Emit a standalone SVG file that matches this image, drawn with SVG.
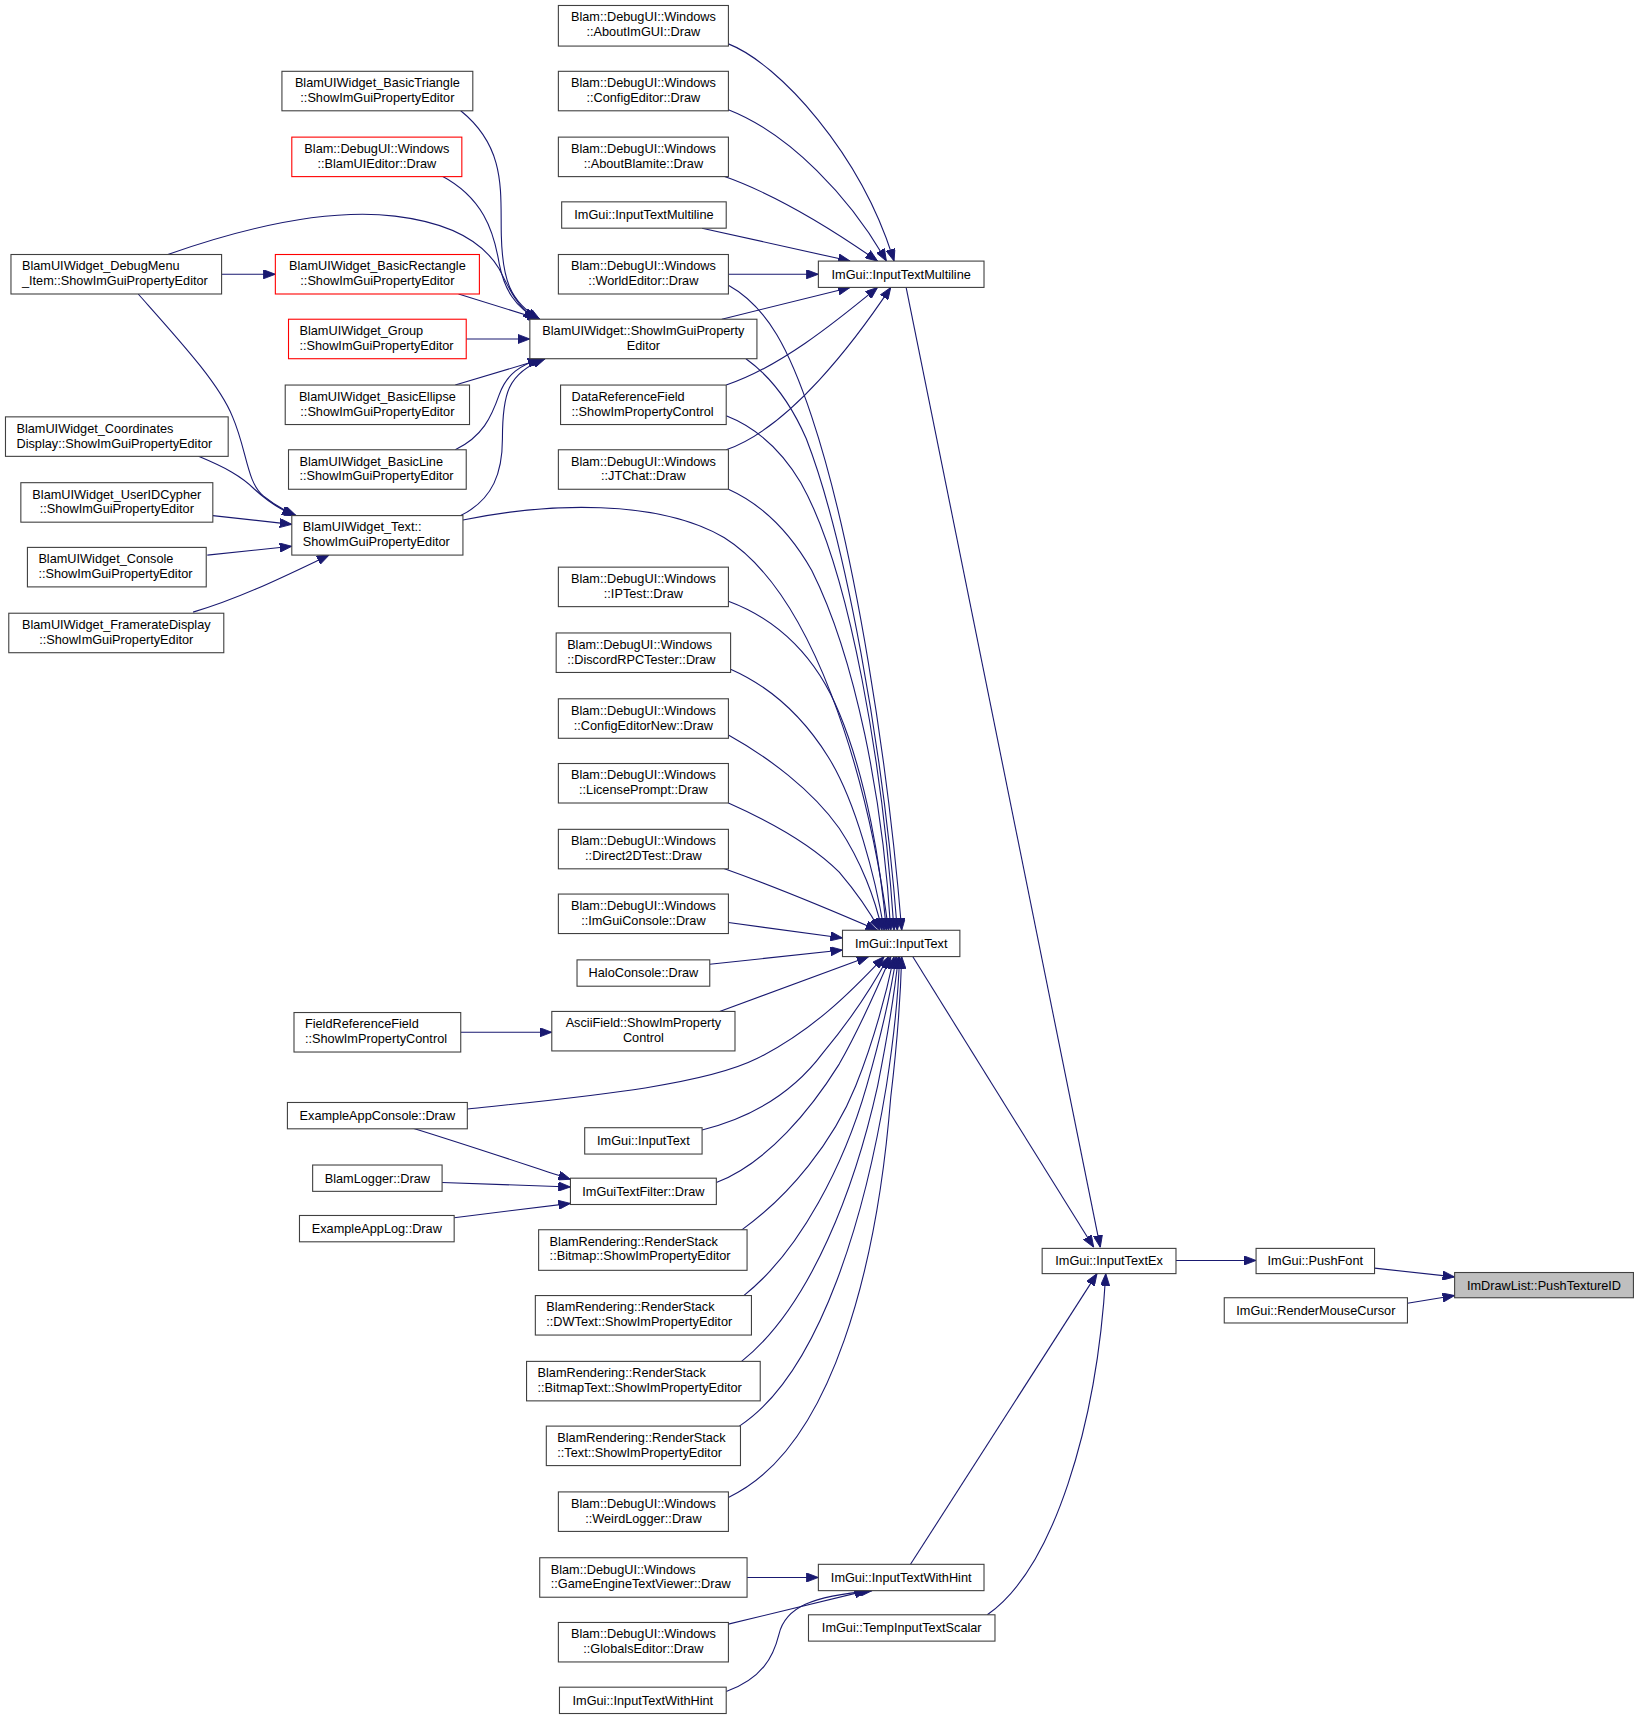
<svg xmlns="http://www.w3.org/2000/svg" width="1639" height="1719" viewBox="0 0 1639 1719">
<style>
.n rect{fill:#ffffff;stroke:#404040;stroke-width:1}
.n.r rect{stroke:#ff0000}
.n.s rect{fill:#bfbfbf}
.n text{font-family:"Liberation Sans",Arial,Helvetica,sans-serif;font-size:11.6px;fill:#000000}
.c{text-anchor:middle}
.l{text-anchor:start}
#edges path{fill:none;stroke:#191970;stroke-width:1;marker-end:url(#ah)}
</style>
<defs>
<marker id="ah" viewBox="0 0 11 8.4" refX="11" refY="4.2" markerWidth="11" markerHeight="8.4" markerUnits="userSpaceOnUse" orient="auto">
<path d="M0,0 L11,4.2 L0,8.4 z" fill="#191970" stroke="#191970" stroke-width="0.8"/>
</marker>
</defs>
<rect x="0" y="0" width="1639" height="1719" fill="#ffffff"/>
<g transform="scale(1.097)">
<g id="edges">
<path d="M664,40 C710,58 785,140 815,238"/>
<path d="M664,100 C720,122 775,180 808,238"/>
<path d="M658,160 C710,178 760,210 800,238"/>
<path d="M640,208 L775,238"/>
<path d="M664,250 L746,250"/>
<path d="M658,291 L775,262"/>
<path d="M662,351 C710,335 760,295 800,262"/>
<path d="M662,410 C720,390 780,310 812,262"/>
<path d="M420,101 C462,135 456,175 457,215 C458,255 465,275 492,291"/>
<path d="M402,160 C440,180 450,210 455,240 C460,265 470,280 490,291"/>
<path d="M153,232 C230,205 300,190 360,197 C410,203 440,220 455,245 C465,265 472,280 488,291"/>
<path d="M418,268 L492,291"/>
<path d="M425,309 L483,309"/>
<path d="M415,351 L495,327"/>
<path d="M415,410 C440,398 448,380 455,360 C462,340 475,333 492,327"/>
<path d="M420,470 C450,455 458,430 458,400 C458,360 462,340 497,327"/>
<path d="M202,250 L251,250"/>
<path d="M126,268 C165,312 200,350 212,380 C225,410 225,440 240,452 C250,460 258,465 270,470"/>
<path d="M181,416 C205,426 220,434 232,446 C245,458 255,464 268,470"/>
<path d="M194,470 L266,478"/>
<path d="M189,506 L266,498"/>
<path d="M176,558 C220,545 260,525 300,506"/>
<path d="M664,260 C700,280 720,320 740,380 C780,500 810,700 822,848"/>
<path d="M680,327 C705,345 722,370 735,400 C770,490 805,680 818,848"/>
<path d="M662,379 C690,390 712,410 730,440 C775,520 805,700 815,848"/>
<path d="M664,446 C695,460 720,485 740,520 C780,600 805,730 812,848"/>
<path d="M422,474 C500,458 600,455 660,490 C740,540 790,700 810,848"/>
<path d="M664,548 C710,565 745,600 765,650 C790,710 803,790 808,848"/>
<path d="M666,610 C700,625 730,650 755,690 C780,730 798,800 806,848"/>
<path d="M664,670 C700,690 740,720 765,755 C785,785 798,820 804,848"/>
<path d="M664,732 C700,748 740,770 765,795 C782,815 795,835 802,848"/>
<path d="M658,791 C700,806 740,822 800,848"/>
<path d="M664,841 L768,855"/>
<path d="M647,879 L768,866"/>
<path d="M656,922 L792,872"/>
<path d="M426,1011 C530,1000 640,990 690,965 C740,940 775,905 806,872"/>
<path d="M640,1030 C680,1020 720,1000 750,960 C775,930 795,900 810,872"/>
<path d="M653,1078 C700,1060 740,1010 765,970 C785,935 800,900 812,872"/>
<path d="M675,1122 C720,1090 760,1040 780,990 C798,945 808,905 815,872"/>
<path d="M678,1181 C730,1140 770,1060 790,990 C803,945 812,905 817,872"/>
<path d="M676,1241 C740,1190 780,1080 800,990 C810,940 816,900 819,872"/>
<path d="M674,1300 C750,1250 790,1100 808,990 C815,945 819,905 820,872"/>
<path d="M664,1365 C760,1320 800,1150 812,1000 C818,950 821,905 822,872"/>
<path d="M420,941 L503,941"/>
<path d="M375,1028 C430,1045 480,1062 520,1075"/>
<path d="M403,1078 L520,1082"/>
<path d="M414,1110 L520,1097"/>
<path d="M681,1438 L746,1438"/>
<path d="M662,1481 L790,1450"/>
<path d="M662,1542 C695,1530 705,1510 710,1490 C716,1465 740,1455 795,1450"/>
<path d="M826,262 L1003,1137"/>
<path d="M832,872 L997,1137"/>
<path d="M830,1426 L1000,1161"/>
<path d="M900,1472 C960,1430 1000,1300 1008,1161"/>
<path d="M1072,1149 L1145,1149"/>
<path d="M1253,1156 L1326,1164"/>
<path d="M1283,1188 L1326,1181"/>
</g>

<g id="n_debugmenu" class="n"><rect x="10" y="232" width="192" height="36"/><text class="l" x="20" y="246.5">BlamUIWidget_DebugMenu</text><text class="l" x="20" y="260">_Item::ShowImGuiPropertyEditor</text></g>
<g id="n_coordinates" class="n"><rect x="5" y="380" width="203" height="36"/><text class="l" x="15" y="394.5">BlamUIWidget_Coordinates</text><text class="l" x="15" y="408">Display::ShowImGuiPropertyEditor</text></g>
<g id="n_useridcypher" class="n"><rect x="19" y="440" width="175" height="36"/><text class="c" x="106.5" y="454.5">BlamUIWidget_UserIDCypher</text><text class="c" x="106.5" y="468">::ShowImGuiPropertyEditor</text></g>
<g id="n_console" class="n"><rect x="25" y="499" width="163" height="36"/><text class="l" x="35" y="513.5">BlamUIWidget_Console</text><text class="l" x="35" y="527">::ShowImGuiPropertyEditor</text></g>
<g id="n_framerate" class="n"><rect x="8" y="559" width="196" height="36"/><text class="c" x="106" y="573.5">BlamUIWidget_FramerateDisplay</text><text class="c" x="106" y="587">::ShowImGuiPropertyEditor</text></g>

<g id="n_basictriangle" class="n"><rect x="257" y="65" width="174" height="36"/><text class="c" x="344" y="79.5">BlamUIWidget_BasicTriangle</text><text class="c" x="344" y="93">::ShowImGuiPropertyEditor</text></g>
<g id="n_blamuieditor" class="n r"><rect x="266" y="125" width="155" height="36"/><text class="c" x="343.5" y="139.5">Blam::DebugUI::Windows</text><text class="c" x="343.5" y="153">::BlamUIEditor::Draw</text></g>
<g id="n_basicrectangle" class="n r"><rect x="251" y="232" width="186" height="36"/><text class="c" x="344" y="246.5">BlamUIWidget_BasicRectangle</text><text class="c" x="344" y="260">::ShowImGuiPropertyEditor</text></g>
<g id="n_group" class="n r"><rect x="263" y="291" width="162" height="36"/><text class="l" x="273" y="305.5">BlamUIWidget_Group</text><text class="l" x="273" y="319">::ShowImGuiPropertyEditor</text></g>
<g id="n_basicellipse" class="n"><rect x="260" y="351" width="168" height="36"/><text class="c" x="344" y="365.5">BlamUIWidget_BasicEllipse</text><text class="c" x="344" y="379">::ShowImGuiPropertyEditor</text></g>
<g id="n_basicline" class="n"><rect x="263" y="410" width="162" height="36"/><text class="l" x="273" y="424.5">BlamUIWidget_BasicLine</text><text class="l" x="273" y="438">::ShowImGuiPropertyEditor</text></g>
<g id="n_text" class="n"><rect x="266" y="470" width="156" height="36"/><text class="l" x="276" y="484.5">BlamUIWidget_Text::</text><text class="l" x="276" y="498">ShowImGuiPropertyEditor</text></g>
<g id="n_fieldreferencefield" class="n"><rect x="268" y="923" width="152" height="36"/><text class="l" x="278" y="937.5">FieldReferenceField</text><text class="l" x="278" y="951">::ShowImPropertyControl</text></g>
<g id="n_exampleappconsole" class="n"><rect x="262" y="1005" width="164" height="24"/><text class="c" x="344" y="1021">ExampleAppConsole::Draw</text></g>
<g id="n_blamlogger" class="n"><rect x="285" y="1062" width="118" height="24"/><text class="c" x="344" y="1078">BlamLogger::Draw</text></g>
<g id="n_exampleapplog" class="n"><rect x="273" y="1108" width="141" height="24"/><text class="c" x="343.5" y="1124">ExampleAppLog::Draw</text></g>

<g id="n_aboutimgui" class="n"><rect x="509" y="5" width="155" height="37"/><text class="c" x="586.5" y="19.5">Blam::DebugUI::Windows</text><text class="c" x="586.5" y="33">::AboutImGUI::Draw</text></g>
<g id="n_configeditor" class="n"><rect x="509" y="65" width="155" height="36"/><text class="c" x="586.5" y="79.5">Blam::DebugUI::Windows</text><text class="c" x="586.5" y="93">::ConfigEditor::Draw</text></g>
<g id="n_aboutblamite" class="n"><rect x="509" y="125" width="155" height="36"/><text class="c" x="586.5" y="139.5">Blam::DebugUI::Windows</text><text class="c" x="586.5" y="153">::AboutBlamite::Draw</text></g>
<g id="n_inputtextmultiline_src" class="n"><rect x="512" y="184" width="150" height="24"/><text class="c" x="587" y="200">ImGui::InputTextMultiline</text></g>
<g id="n_worldeditor" class="n"><rect x="509" y="232" width="155" height="36"/><text class="c" x="586.5" y="246.5">Blam::DebugUI::Windows</text><text class="c" x="586.5" y="260">::WorldEditor::Draw</text></g>
<g id="n_showimguipropertyeditor" class="n"><rect x="483" y="291" width="207" height="36"/><text class="c" x="586.5" y="305.5">BlamUIWidget::ShowImGuiProperty</text><text class="c" x="586.5" y="319">Editor</text></g>
<g id="n_datareferencefield" class="n"><rect x="511" y="351" width="151" height="36"/><text class="l" x="521" y="365.5">DataReferenceField</text><text class="l" x="521" y="379">::ShowImPropertyControl</text></g>
<g id="n_jtchat" class="n"><rect x="509" y="410" width="155" height="36"/><text class="c" x="586.5" y="424.5">Blam::DebugUI::Windows</text><text class="c" x="586.5" y="438">::JTChat::Draw</text></g>
<g id="n_iptest" class="n"><rect x="509" y="517" width="155" height="36"/><text class="c" x="586.5" y="531.5">Blam::DebugUI::Windows</text><text class="c" x="586.5" y="545">::IPTest::Draw</text></g>
<g id="n_discordrpctester" class="n"><rect x="507" y="577" width="159" height="36"/><text class="l" x="517" y="591.5">Blam::DebugUI::Windows</text><text class="l" x="517" y="605">::DiscordRPCTester::Draw</text></g>
<g id="n_configeditornew" class="n"><rect x="509" y="637" width="155" height="36"/><text class="c" x="586.5" y="651.5">Blam::DebugUI::Windows</text><text class="c" x="586.5" y="665">::ConfigEditorNew::Draw</text></g>
<g id="n_licenseprompt" class="n"><rect x="509" y="696" width="155" height="36"/><text class="c" x="586.5" y="710.5">Blam::DebugUI::Windows</text><text class="c" x="586.5" y="724">::LicensePrompt::Draw</text></g>
<g id="n_direct2dtest" class="n"><rect x="509" y="756" width="155" height="36"/><text class="c" x="586.5" y="770.5">Blam::DebugUI::Windows</text><text class="c" x="586.5" y="784">::Direct2DTest::Draw</text></g>
<g id="n_imguiconsole" class="n"><rect x="509" y="815" width="155" height="36"/><text class="c" x="586.5" y="829.5">Blam::DebugUI::Windows</text><text class="c" x="586.5" y="843">::ImGuiConsole::Draw</text></g>
<g id="n_haloconsole" class="n"><rect x="526" y="875" width="121" height="24"/><text class="c" x="586.5" y="891">HaloConsole::Draw</text></g>
<g id="n_asciifield" class="n"><rect x="503" y="922" width="167" height="36"/><text class="c" x="586.5" y="936.5">AsciiField::ShowImProperty</text><text class="c" x="586.5" y="950">Control</text></g>
<g id="n_inputtext_src" class="n"><rect x="533" y="1028" width="107" height="24"/><text class="c" x="586.5" y="1044">ImGui::InputText</text></g>
<g id="n_imguitextfilter" class="n"><rect x="520" y="1074" width="133" height="24"/><text class="c" x="586.5" y="1090">ImGuiTextFilter::Draw</text></g>
<g id="n_rs_bitmap" class="n"><rect x="491" y="1121" width="190" height="37"/><text class="l" x="501" y="1135.5">BlamRendering::RenderStack</text><text class="l" x="501" y="1149">::Bitmap::ShowImPropertyEditor</text></g>
<g id="n_rs_dwtext" class="n"><rect x="488" y="1181" width="197" height="36"/><text class="l" x="498" y="1195.5">BlamRendering::RenderStack</text><text class="l" x="498" y="1209">::DWText::ShowImPropertyEditor</text></g>
<g id="n_rs_bitmaptext" class="n"><rect x="480" y="1241" width="213" height="36"/><text class="l" x="490" y="1255.5">BlamRendering::RenderStack</text><text class="l" x="490" y="1269">::BitmapText::ShowImPropertyEditor</text></g>
<g id="n_rs_text" class="n"><rect x="498" y="1300" width="177" height="36"/><text class="l" x="508" y="1314.5">BlamRendering::RenderStack</text><text class="l" x="508" y="1328">::Text::ShowImPropertyEditor</text></g>
<g id="n_weirdlogger" class="n"><rect x="509" y="1360" width="155" height="36"/><text class="c" x="586.5" y="1374.5">Blam::DebugUI::Windows</text><text class="c" x="586.5" y="1388">::WeirdLogger::Draw</text></g>
<g id="n_gameenginetextviewer" class="n"><rect x="492" y="1420" width="189" height="36"/><text class="l" x="502" y="1434.5">Blam::DebugUI::Windows</text><text class="l" x="502" y="1448">::GameEngineTextViewer::Draw</text></g>
<g id="n_globalseditor" class="n"><rect x="509" y="1479" width="155" height="36"/><text class="c" x="586.5" y="1493.5">Blam::DebugUI::Windows</text><text class="c" x="586.5" y="1507">::GlobalsEditor::Draw</text></g>
<g id="n_inputtextwithhint_src" class="n"><rect x="510" y="1538" width="152" height="24"/><text class="c" x="586" y="1554">ImGui::InputTextWithHint</text></g>

<g id="n_inputtextmultiline" class="n"><rect x="746" y="238" width="151" height="24"/><text class="c" x="821.5" y="254">ImGui::InputTextMultiline</text></g>
<g id="n_inputtext" class="n"><rect x="768" y="848" width="107" height="24"/><text class="c" x="821.5" y="864">ImGui::InputText</text></g>
<g id="n_inputtextwithhint" class="n"><rect x="746" y="1426" width="151" height="24"/><text class="c" x="821.5" y="1442">ImGui::InputTextWithHint</text></g>
<g id="n_tempinputtextscalar" class="n"><rect x="737" y="1472" width="170" height="24"/><text class="c" x="822" y="1488">ImGui::TempInputTextScalar</text></g>
<g id="n_inputtextex" class="n"><rect x="950" y="1138" width="122" height="23"/><text class="c" x="1011" y="1153.5">ImGui::InputTextEx</text></g>
<g id="n_pushfont" class="n"><rect x="1145" y="1138" width="108" height="23"/><text class="c" x="1199" y="1153.5">ImGui::PushFont</text></g>
<g id="n_rendermousecursor" class="n"><rect x="1116" y="1183" width="167" height="23"/><text class="c" x="1199.5" y="1198.5">ImGui::RenderMouseCursor</text></g>
<g id="n_pushtextureid" class="n s"><rect x="1326" y="1160" width="163" height="23"/><text class="c" x="1407.5" y="1175.5">ImDrawList::PushTextureID</text></g>
</g>
</svg>
